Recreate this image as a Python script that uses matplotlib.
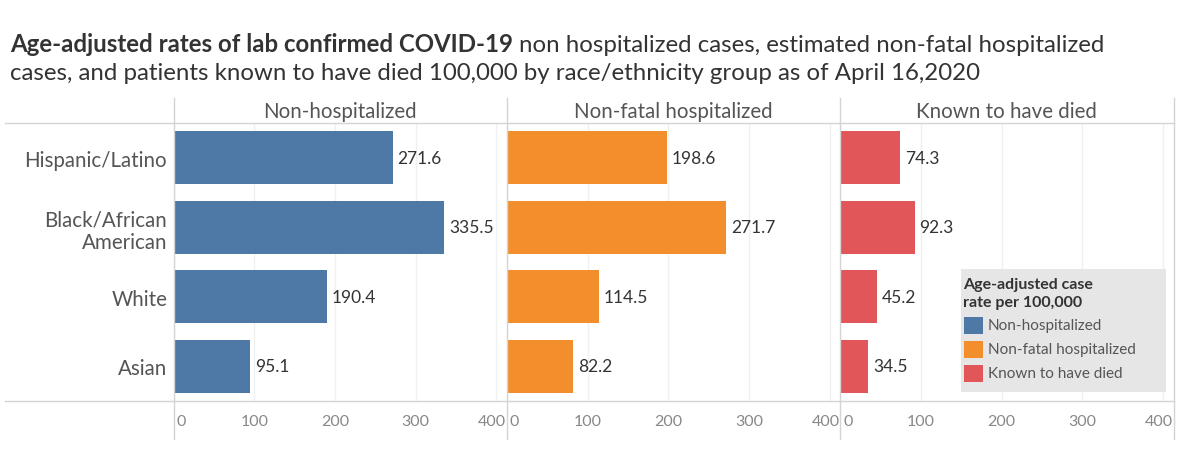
import matplotlib
matplotlib.use("Agg")
import matplotlib.pyplot as plt
from matplotlib.lines import Line2D
from matplotlib.patches import Rectangle
from matplotlib.transforms import ScaledTranslation

plt.rcParams["font.family"] = ["Lato", "DejaVu Sans"]

GROUPS = ["Hispanic/Latino", "Black/African\nAmerican", "White", "Asian"]
MEASURES = ["Non-hospitalized", "Non-fatal hospitalized", "Known to have died"]
NON_HOSP = [271.6, 335.5, 190.4, 95.1]
NON_FATAL_HOSP = [198.6, 271.7, 114.5, 82.2]
DIED = [74.3, 92.3, 45.2, 34.5]
COLORS = ["#4e79a7", "#f28e2b", "#e15759"]
TICKS = [0, 100, 200, 300, 400]
XMAX = 413

W, H = 1187, 477
fig = plt.figure(figsize=(W / 100, H / 100), dpi=100)


def fx(px):
    return px / W


def fy(py):
    return 1 - py / H


def shift(dx_px, dy_px=0):
    return ScaledTranslation(dx_px / 100, dy_px / 100, fig.dpi_scale_trans)


left, right = 173.5, 1173.5
top, bottom = 124, 402
pw = (right - left) / 3

series = [NON_HOSP, NON_FATAL_HOSP, DIED]
axes = []
for i, (vals, color, name) in enumerate(zip(series, COLORS, MEASURES)):
    ax = fig.add_axes([fx(left + i * pw), fy(bottom), fx(pw), (bottom - top) / H])
    ypos = list(range(len(GROUPS)))
    ax.barh(ypos, vals, height=0.76, color=color, zorder=3)
    for y, v in zip(ypos, vals):
        ax.text(v + 6, y, f"{v:.1f}", va="center", ha="left", fontsize=12.5, color="#333333", zorder=4)
    ax.set_xlim(0, XMAX)
    ax.set_ylim(len(GROUPS) - 0.5, -0.5)
    ax.set_xticks(TICKS)
    ax.set_xticklabels([])
    ax.tick_params(axis="x", length=0)
    # tick labels drawn by hand so the end labels can be nudged like Tableau does
    for t in TICKS:
        ha, dx = "center", 0
        if t == TICKS[0]:
            ha, dx = "left", 3
        elif t == TICKS[-1]:
            dx = -4
        ax.text(t, 0, str(t), transform=ax.get_xaxis_transform() + shift(dx, -20),
                ha=ha, va="center", fontsize=11.5, color="#888888", clip_on=False)
    ax.grid(axis="x", color="#f0f0f0", linewidth=1, zorder=0)
    for s in ax.spines.values():
        s.set_visible(False)
    if i == 0:
        ax.set_yticks(ypos)
        ax.set_yticklabels(GROUPS, fontsize=14.8, color="#555555", linespacing=1.2)
        ax.tick_params(axis="y", length=0, pad=4.5)
    else:
        ax.set_yticks([])
    fig.text(fx(left + i * pw + pw / 2), fy(112), name, ha="center", va="center",
             fontsize=14.8, color="#555555")
    axes.append(ax)

# frame lines
line_kw = dict(color="#d4d4d4", linewidth=1, transform=fig.transFigure)
fig.add_artist(Line2D([fx(5), fx(right)], [fy(top), fy(top)], **line_kw))
fig.add_artist(Line2D([fx(5), fx(right)], [fy(bottom), fy(bottom)], **line_kw))
for i in range(4):
    x = fx(left + i * pw)
    fig.add_artist(Line2D([x, x], [fy(99), fy(440)], **line_kw))

# title
t1 = fig.text(fx(10), fy(45), "Age-adjusted rates of lab confirmed COVID-19", fontsize=17.3,
              fontweight="bold", color="#333333", va="center", ha="left")
fig.canvas.draw()
bb = t1.get_window_extent()
fig.text(bb.x1 / W + fx(6), fy(45), "non hospitalized cases, estimated non-fatal hospitalized",
         fontsize=17.3, color="#333333", va="center", ha="left")
fig.text(fx(10), fy(73), "cases, and patients known to have died 100,000 by race/ethnicity group as of April 16,2020",
         fontsize=17.3, color="#333333", va="center", ha="left")

# legend
lx, ly, lw, lh = 961, 270, 205, 123
fig.add_artist(Rectangle((fx(lx), fy(ly + lh)), fx(lw), lh / H, transform=fig.transFigure,
                         facecolor="#e6e6e6", edgecolor="none", zorder=5))
fig.text(fx(lx + 2), fy(285), "Age-adjusted case", fontsize=11.5,
         fontweight="bold", color="#333333", va="center", ha="left", zorder=6)
fig.text(fx(lx + 2), fy(303), "rate per 100,000", fontsize=11.5,
         fontweight="bold", color="#333333", va="center", ha="left", zorder=6)
for k, (name, color) in enumerate(zip(MEASURES, COLORS)):
    cy = 326 + k * 24
    fig.add_artist(Rectangle((fx(lx + 3), fy(cy + 8.5)), fx(19), 17 / H, transform=fig.transFigure,
                             facecolor=color, edgecolor="none", zorder=6))
    fig.text(fx(lx + 27), fy(cy), name, fontsize=11, color="#555555", va="center", ha="left", zorder=6)

fig.savefig("out.png", dpi=100)
